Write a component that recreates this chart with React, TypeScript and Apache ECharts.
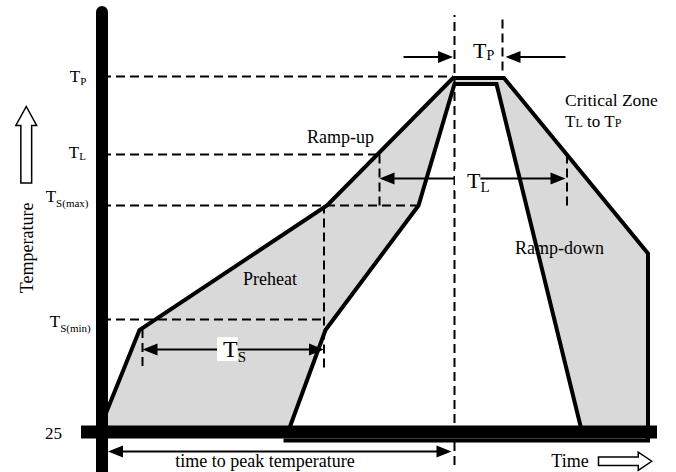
import React, { useEffect, useRef } from 'react';
import * as echarts from 'echarts';

const FONT = "'Liberation Serif', 'Times New Roman', Times, serif";
const INK = '#000000';
const BAND_FILL = '#d9d9d9';

// Temperature levels on the vertical axis
const levelSubscripts = ['P', 'L', 'S(max)', 'S(min)'];
const levelTemps = [262, 210, 176, 100];
const levelGuideEnds = [234, 185, 211, 148];
const ambientTemp = 25;

// Process window: outer (upper) and inner (lower) limits (time, temperature)
const outerTimes = [0, 25, 150, 234, 268, 364, 364, 121];
const outerTemps = [31, 93, 176, 261, 261, 144, 19.3, 19.3];
const innerTimes = [124, 149, 211, 235, 263, 320];
const innerTemps = [25, 93, 176, 257, 257, 25];

// Vertical guide lines
const vGuideTimes = [235, 267, 185, 310, 148, 27];
const vGuideLows = [3, 266, 176, 176, 68, 69];
const vGuideHighs = [303, 301, 210, 210, 176, 93];

// Dimension arrows
const dimFrom = [201, 309, 185, 27, 4];
const dimTo = [234, 269, 309, 148, 233];
const dimTemps = [275, 275, 194, 80, 12];
const dimBoth = [0, 0, 1, 1, 1];

const timeAxisSpan = [-14, 370];

// Hollow direction arrows (tail -> tip)
const hollowFromTimes = [-50.5, 331];
const hollowFromTemps = [191, 5.5];
const hollowToTimes = [-50.5, 366.5];
const hollowToTemps = [242, 5.5];

// Phase labels
const phaseNames = ['Ramp-up', 'Preheat', 'Ramp-down'];
const phaseTimes = [159, 112, 305];
const phaseTemps = [222, 127, 148];

function scripted(main: string, sub: string, mainSize: number, subSize: number, shift: number, padL = 0, bg?: string) {
  const pad = Math.max(0, shift + mainSize / 2 - subSize / 2);
  return {
    text: `{m|${main}}{s|${sub}}`,
    rich: {
      m: { fontSize: mainSize, lineHeight: mainSize, fontFamily: FONT, fill: INK, verticalAlign: 'top', padding: [0, 0, 0, padL], backgroundColor: bg },
      s: { fontSize: subSize, lineHeight: subSize, fontFamily: FONT, fill: INK, verticalAlign: 'top', padding: [pad, 0, 0, 0] },
    },
    top: mainSize / 2,
  };
}

type Spec = { t: number; T: number; text: string; rich?: any; size?: number; align: string; top?: number; rotation?: number };

const levelLabelTimes = [-10.5, -10.7, -9, -7.5];
const levelLabelTemps = [261.7, 211.3, 181.7, 99];
const levelShifts = [4.5, 3, 6, 6.5];

const specs: Spec[] = [];
levelSubscripts.forEach((s, i) => {
  const r = scripted('T', s, 17, 11, levelShifts[i]);
  specs.push({ t: levelLabelTimes[i], T: levelLabelTemps[i], text: r.text, rich: r.rich, align: 'right', top: r.top });
});
specs.push({ t: -26.7, T: 24.3, text: String(ambientTemp), size: 17, align: 'right' });
specs.push({ t: -50.3, T: 147.7, text: 'Temperature', size: 18, align: 'center', rotation: Math.PI / 2 });
phaseNames.forEach((n, i) => specs.push({ t: phaseTimes[i], T: phaseTemps[i], text: n, size: 18, align: 'center' }));
specs.push({ t: 308.7, T: 246.3, text: 'Critical Zone', size: 17.5, align: 'left' });
{
  const pad = 0.33 * (17 - 12) + 8.5 - 6;
  specs.push({
    t: 308.7, T: 232.3, align: 'left', top: 8.5,
    text: '{c|T}{k|L}{c| to T}{k|P}',
    rich: {
      c: { fontSize: 17, lineHeight: 17, fontFamily: FONT, fill: INK, verticalAlign: 'top' },
      k: { fontSize: 12, lineHeight: 12, fontFamily: FONT, fill: INK, verticalAlign: 'top', padding: [pad, 0, 0, 0] },
    },
  });
}
{
  const r = scripted('T', 'P', 22, 14, 4.5);
  specs.push({ t: 247.3, T: 279.3, text: r.text, rich: r.rich, align: 'left', top: r.top });
}
{
  const r = scripted('T', 'L', 22, 15, 7, 12, '#ffffff');
  specs.push({ t: 235.3, T: 193, text: r.text, rich: r.rich, align: 'left', top: r.top });
}
{
  const r = scripted('T', 'S', 24, 15, 8, 6, '#ffffff');
  specs.push({ t: 76.7, T: 80.3, text: r.text, rich: r.rich, align: 'left', top: r.top });
}
specs.push({ t: 108.7, T: 5.6, text: 'time to peak temperature', size: 18, align: 'center' });
specs.push({ t: 312, T: 5.6, text: 'Time', size: 18, align: 'center' });

const guideSegments: number[][] = [
  ...levelTemps.map((T, i) => [0, T, levelGuideEnds[i], T]),
  ...vGuideTimes.map((t, i) => [t, vGuideLows[i], t, vGuideHighs[i]]),
];

function buildOption() {
  return {
    animation: false,
    backgroundColor: '#ffffff',
    grid: { left: 0, right: 1, top: 12, bottom: 1, containLabel: false, outerBoundsMode: 'none' },
    xAxis: {
      type: 'value', min: -68, max: 382,
      axisLine: { show: false }, axisTick: { show: false }, axisLabel: { show: false }, splitLine: { show: false },
    },
    yAxis: {
      type: 'value', min: -1, max: 305, z: 10,
      axisLine: { show: true, onZero: true, lineStyle: { color: INK, width: 12 } },
      axisTick: { show: false }, axisLabel: { show: false }, splitLine: { show: false },
    },
    series: [
      {
        type: 'custom', name: 'window', coordinateSystem: 'cartesian2d', silent: true, z: 2,
        data: [[0, ambientTemp]],
        renderItem: (_p: any, api: any) => {
          const outer = outerTimes.map((t, i) => api.coord([t, outerTemps[i]]));
          const inner = innerTimes.map((t, i) => api.coord([t, innerTemps[i]]));
          const fill: number[][] = [api.coord([outerTimes[0], ambientTemp])];
          let lastT = outerTimes[0];
          outerTimes.forEach((t, i) => {
            if (outerTemps[i] > ambientTemp) { fill.push(outer[i]); lastT = t; }
          });
          fill.push(api.coord([lastT, ambientTemp]));
          for (let i = inner.length - 1; i >= 0; i--) fill.push(inner[i]);
          const stroke = { stroke: INK, lineWidth: 4, fill: null, lineJoin: 'miter', miterLimit: 10 };
          return {
            type: 'group',
            children: [
              { type: 'polygon', shape: { points: fill }, style: { fill: BAND_FILL, stroke: null } },
              { type: 'polyline', shape: { points: outer }, style: stroke },
              { type: 'polyline', shape: { points: inner }, style: stroke },
            ],
          };
        },
      },
      {
        type: 'custom', name: 'guides', coordinateSystem: 'cartesian2d', silent: true, z: 3,
        data: guideSegments,
        renderItem: (_p: any, api: any) => {
          const a = api.coord([api.value(0), api.value(1)]);
          const b = api.coord([api.value(2), api.value(3)]);
          return {
            type: 'line',
            shape: { x1: a[0], y1: a[1], x2: b[0], y2: b[1] },
            style: { stroke: INK, lineWidth: 2, lineDash: [9, 5] },
          };
        },
      },
      {
        type: 'custom', name: 'timeAxis', coordinateSystem: 'cartesian2d', silent: true, z: 4,
        data: [[timeAxisSpan[0], ambientTemp, timeAxisSpan[1], ambientTemp]],
        renderItem: (_p: any, api: any) => {
          const a = api.coord([api.value(0), api.value(1)]);
          const b = api.coord([api.value(2), api.value(3)]);
          return {
            type: 'line',
            shape: { x1: a[0], y1: a[1], x2: b[0], y2: b[1] },
            style: { stroke: INK, lineWidth: 13 },
          };
        },
      },
      {
        type: 'custom', name: 'dimensions', coordinateSystem: 'cartesian2d', silent: true, z: 5,
        data: dimFrom.map((t, i) => [t, dimTemps[i]]),
        renderItem: (params: any, api: any) => {
          const i = params.dataIndex;
          const a = api.coord([dimFrom[i], dimTemps[i]]);
          const b = api.coord([dimTo[i], dimTemps[i]]);
          const dx = b[0] - a[0], dy = b[1] - a[1];
          const len = Math.hypot(dx, dy) || 1;
          const ux = dx / len, uy = dy / len;
          const L = 15, W = 6;
          const head = (tip: number[], vx: number, vy: number) => ({
            type: 'polygon',
            shape: {
              points: [
                [tip[0], tip[1]],
                [tip[0] - vx * L - vy * W, tip[1] - vy * L + vx * W],
                [tip[0] - vx * L + vy * W, tip[1] - vy * L - vx * W],
              ],
            },
            style: { fill: INK, stroke: null },
          });
          const start = dimBoth[i] ? [a[0] + ux * L * 0.8, a[1] + uy * L * 0.8] : a;
          const end = [b[0] - ux * L * 0.8, b[1] - uy * L * 0.8];
          const children: any[] = [
            { type: 'line', shape: { x1: start[0], y1: start[1], x2: end[0], y2: end[1] }, style: { stroke: INK, lineWidth: 2 } },
            head(b, ux, uy),
          ];
          if (dimBoth[i]) children.push(head(a, -ux, -uy));
          return { type: 'group', children };
        },
      },
      {
        type: 'custom', name: 'directions', coordinateSystem: 'cartesian2d', silent: true, z: 5,
        data: hollowFromTimes.map((t, i) => [t, hollowFromTemps[i]]),
        renderItem: (params: any, api: any) => {
          const i = params.dataIndex;
          const a = api.coord([hollowFromTimes[i], hollowFromTemps[i]]);
          const b = api.coord([hollowToTimes[i], hollowToTemps[i]]);
          const dx = b[0] - a[0], dy = b[1] - a[1];
          const len = Math.hypot(dx, dy) || 1;
          const ux = dx / len, uy = dy / len;
          const nx = -uy, ny = ux;
          const sw = i === 0 ? 5.4 : 4.2;
          const hw = i === 0 ? 10.4 : 9.2;
          const hl = i === 0 ? 19 : 13.5;
          const hb = [b[0] - ux * hl, b[1] - uy * hl];
          const pts = [
            [a[0] + nx * sw, a[1] + ny * sw],
            [hb[0] + nx * sw, hb[1] + ny * sw],
            [hb[0] + nx * hw, hb[1] + ny * hw],
            [b[0], b[1]],
            [hb[0] - nx * hw, hb[1] - ny * hw],
            [hb[0] - nx * sw, hb[1] - ny * sw],
            [a[0] - nx * sw, a[1] - ny * sw],
          ];
          return { type: 'polygon', shape: { points: pts }, style: { fill: '#ffffff', stroke: INK, lineWidth: 1.5, lineJoin: 'miter' } };
        },
      },
      {
        type: 'custom', name: 'labels', coordinateSystem: 'cartesian2d', silent: true, z: 6,
        data: specs.map((s) => [s.t, s.T]),
        renderItem: (params: any, api: any) => {
          const s = specs[params.dataIndex];
          const p = api.coord([s.t, s.T]);
          return {
            type: 'text',
            x: p[0],
            y: s.top != null ? p[1] - s.top : p[1],
            rotation: s.rotation || 0,
            style: {
              text: s.text,
              rich: s.rich,
              fontFamily: FONT,
              fontSize: s.size || 18,
              fill: INK,
              align: s.align,
              verticalAlign: s.top != null ? 'top' : 'middle',
            },
          };
        },
      },
    ],
  };
}

export default function App() {
  const ref = useRef<HTMLDivElement>(null);
  useEffect(() => {
    if (!ref.current) return;
    const chart = echarts.init(ref.current, null, { renderer: 'svg' });
    chart.setOption(buildOption() as any);
    return () => chart.dispose();
  }, []);
  return (
    <div
      ref={ref}
      style={{ position: 'fixed', left: 0, top: 0, width: 676, height: 472, background: '#ffffff' }}
    />
  );
}
